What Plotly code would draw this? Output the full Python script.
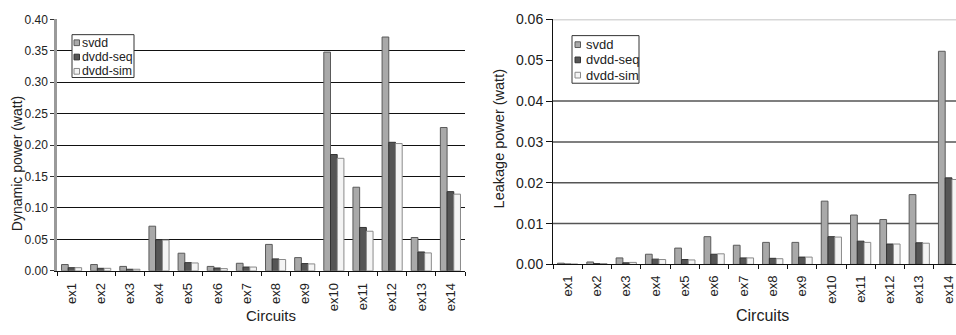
import plotly.graph_objects as go

circuits = ["ex1", "ex2", "ex3", "ex4", "ex5", "ex6", "ex7", "ex8", "ex9", "ex10", "ex11", "ex12", "ex13", "ex14"]

dyn_svdd = [0.010, 0.010, 0.007, 0.071, 0.028, 0.007, 0.012, 0.042, 0.021, 0.348, 0.133, 0.372, 0.053, 0.228]
dyn_seq = [0.005, 0.004, 0.0025, 0.0495, 0.013, 0.0045, 0.006, 0.019, 0.0115, 0.185, 0.069, 0.2045, 0.030, 0.126]
dyn_sim = [0.005, 0.004, 0.0025, 0.049, 0.0125, 0.0035, 0.006, 0.018, 0.011, 0.179, 0.063, 0.2025, 0.0285, 0.122]

leak_svdd = [0.0003, 0.0006, 0.0016, 0.0025, 0.0040, 0.0068, 0.0047, 0.0054, 0.0054, 0.0155, 0.0121, 0.0110, 0.0171, 0.0522]
leak_seq = [0.0001, 0.0002, 0.0004, 0.0013, 0.0012, 0.0025, 0.0016, 0.0015, 0.0018, 0.0068, 0.0057, 0.0050, 0.0053, 0.0212]
leak_sim = [0.0001, 0.0002, 0.0005, 0.0012, 0.0011, 0.0026, 0.0016, 0.0014, 0.0018, 0.0067, 0.0054, 0.0050, 0.0052, 0.0208]

series_names = ["svdd", "dvdd-seq", "dvdd-sim"]
fills = ["#a9a9a9", "#555555", "#f4f4f4"]
outlines = ["#5a5a5a", "#333333", "#8a8a8a"]

W, H = 956, 335
FONT = "Liberation Sans, Arial, sans-serif"

def px_x(p):
    return p / W

def px_y(p):
    return 1 - p / H

fig = go.Figure()

for vals, name, fc, oc in zip([dyn_svdd, dyn_seq, dyn_sim], series_names, fills, outlines):
    fig.add_trace(go.Bar(x=circuits, y=vals, name=name, marker=dict(color=fc, line=dict(color=oc, width=1)),
                         xaxis="x", yaxis="y", showlegend=False))
for vals, name, fc, oc in zip([leak_svdd, leak_seq, leak_sim], series_names, fills, outlines):
    fig.add_trace(go.Bar(x=circuits, y=vals, name=name, marker=dict(color=fc, line=dict(color=oc, width=1)),
                         xaxis="x2", yaxis="y2", showlegend=False))

# right-chart gridlines (0.01-0.04 dark, 0.06 light)
for v in [0.01, 0.02, 0.03, 0.04]:
    fig.add_shape(type="line", xref="x2 domain", yref="y2", x0=0, x1=1, y0=v, y1=v,
                  line=dict(color="#555555", width=1.5), layer="below")
fig.add_shape(type="line", xref="x2 domain", yref="y2", x0=0, x1=1, y0=0.06, y1=0.06,
              line=dict(color="#b0b0b0", width=1.5), layer="below")

# hand-drawn legends (box, swatches, labels)
def add_legend(box, rows, sw_x, txt_x, fsize):
    x0, y0, x1, y1 = box
    fig.add_shape(type="rect", xref="paper", yref="paper", x0=px_x(x0), x1=px_x(x1), y0=px_y(y1), y1=px_y(y0),
                  line=dict(color="#333", width=1), fillcolor="white", layer="above")
    for name, fc, oc, ry in zip(series_names, fills, outlines, rows):
        fig.add_shape(type="rect", xref="paper", yref="paper",
                      x0=px_x(sw_x), x1=px_x(sw_x + 5.5), y0=px_y(ry + 3), y1=px_y(ry - 3),
                      line=dict(color=oc, width=1), fillcolor=fc, layer="above")
        fig.add_annotation(text=name, x=px_x(txt_x), y=px_y(ry), xref="paper", yref="paper",
                           xanchor="left", yanchor="middle", showarrow=False, borderpad=0,
                           font=dict(family=FONT, size=fsize, color="#222"))

add_legend((72, 28, 134, 73), [36.5, 51.5, 66.5], 74, 81, 12.3)
add_legend((572, 29, 639, 79), [38.5, 54.5, 70.5], 575, 585, 13)

tickfont_x = dict(family=FONT, size=13, color="#222")

fig.update_layout(
    width=W, height=H,
    margin=dict(l=0, r=0, t=0, b=0),
    paper_bgcolor="white", plot_bgcolor="white",
    barmode="group", bargap=0.31, bargroupgap=0,
    font=dict(family=FONT, color="#222"),
    showlegend=False,
    xaxis=dict(domain=[px_x(57), px_x(465)], anchor="y", type="category", range=[-0.5, 13.5],
               showline=True, linecolor="#111", linewidth=1, ticks="outside", tickson="boundaries",
               ticklen=4, tickcolor="#111", tickangle=-90, tickfont=tickfont_x, showgrid=False,
               ticklabelstandoff=6),
    yaxis=dict(domain=[px_y(276), px_y(12)], anchor="x", range=[0, 0.40], dtick=0.05, tickformat=".2f",
               showline=True, linecolor="#9a9a9a", linewidth=2.5, ticks="outside", ticklen=4, tickcolor="#333",
               showgrid=True, gridcolor="#111", gridwidth=1, zeroline=False,
               tickfont=dict(family=FONT, size=12, color="#222")),
    xaxis2=dict(domain=[px_x(553), 1.0], anchor="y2", type="category", range=[-0.5, 13.254],
                showline=True, linecolor="#111", linewidth=1, ticks="outside", tickson="boundaries",
                ticklen=4, tickcolor="#111", tickangle=-90, tickfont=tickfont_x, showgrid=False,
                ticklabelstandoff=5),
    yaxis2=dict(domain=[px_y(269.3), px_y(12)], anchor="x2", range=[0, 0.06], dtick=0.01, tickformat=".2f",
                showline=True, linecolor="#111", linewidth=1, ticks="outside", ticklen=6, tickcolor="#111",
                showgrid=False, zeroline=False,
                tickfont=dict(family=FONT, size=14, color="#222")),
)

annotations = [
    dict(text="Dynamic power (watt)", x=px_x(17), y=px_y(164), textangle=-90, size=14),
    dict(text="Leakage power (watt)", x=px_x(498.5), y=px_y(137.5), textangle=-90, size=14.5),
    dict(text="Circuits", x=px_x(271), y=px_y(323), textangle=0, size=15),
    dict(text="Circuits", x=px_x(762.5), y=px_y(323), textangle=0, size=16),
]
for a in annotations:
    fig.add_annotation(text=a["text"], x=a["x"], y=a["y"], xref="paper", yref="paper",
                       xanchor="center", yanchor="middle", textangle=a["textangle"], showarrow=False,
                       font=dict(family=FONT, size=a["size"], color="#222"))

fig.write_html("out.html")
